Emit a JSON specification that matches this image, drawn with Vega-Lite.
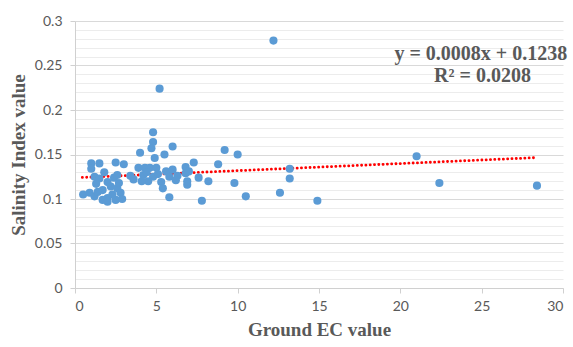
{
  "$schema": "https://vega.github.io/schema/vega-lite/v6.json",
  "width": 488,
  "height": 267,
  "autosize": "none",
  "padding": {"left": 75, "top": 21, "right": 10, "bottom": 59},
  "background": "white",
  "config": {"view": {"stroke": null}},
  "datasets": {
    "pts": [
      {"ec": 0.5, "si": 0.105}, {"ec": 1.0, "si": 0.140}, {"ec": 1.5, "si": 0.140}, {"ec": 1.0, "si": 0.134},
      {"ec": 2.5, "si": 0.141}, {"ec": 3.0, "si": 0.139}, {"ec": 1.2, "si": 0.125}, {"ec": 1.5, "si": 0.123},
      {"ec": 2.0, "si": 0.119}, {"ec": 2.4, "si": 0.124}, {"ec": 2.6, "si": 0.127}, {"ec": 2.2, "si": 0.114},
      {"ec": 2.6, "si": 0.112}, {"ec": 0.9, "si": 0.107}, {"ec": 1.2, "si": 0.103}, {"ec": 1.7, "si": 0.110},
      {"ec": 2.0, "si": 0.101}, {"ec": 1.7, "si": 0.099}, {"ec": 2.5, "si": 0.099}, {"ec": 2.0, "si": 0.097},
      {"ec": 2.8, "si": 0.107}, {"ec": 1.4, "si": 0.108}, {"ec": 1.8, "si": 0.130}, {"ec": 2.3, "si": 0.105},
      {"ec": 1.3, "si": 0.117}, {"ec": 2.7, "si": 0.118}, {"ec": 2.9, "si": 0.100},
      {"ec": 4.0, "si": 0.152}, {"ec": 4.8, "si": 0.175}, {"ec": 4.8, "si": 0.164}, {"ec": 4.7, "si": 0.157},
      {"ec": 4.9, "si": 0.146}, {"ec": 6.0, "si": 0.159}, {"ec": 5.5, "si": 0.150}, {"ec": 3.9, "si": 0.135},
      {"ec": 4.3, "si": 0.135}, {"ec": 4.6, "si": 0.135}, {"ec": 5.0, "si": 0.135}, {"ec": 5.6, "si": 0.131},
      {"ec": 6.0, "si": 0.133}, {"ec": 6.8, "si": 0.136}, {"ec": 4.2, "si": 0.127}, {"ec": 4.8, "si": 0.125},
      {"ec": 5.8, "si": 0.125}, {"ec": 5.3, "si": 0.119}, {"ec": 5.4, "si": 0.112}, {"ec": 5.8, "si": 0.102},
      {"ec": 6.8, "si": 0.129}, {"ec": 6.9, "si": 0.116}, {"ec": 6.9, "si": 0.120}, {"ec": 3.6, "si": 0.122},
      {"ec": 4.5, "si": 0.120}, {"ec": 4.1, "si": 0.120}, {"ec": 5.1, "si": 0.128}, {"ec": 4.4, "si": 0.130},
      {"ec": 6.3, "si": 0.126}, {"ec": 3.4, "si": 0.126}, {"ec": 6.2, "si": 0.121}, {"ec": 7.0, "si": 0.131},
      {"ec": 5.2, "si": 0.224}, {"ec": 7.3, "si": 0.141}, {"ec": 7.6, "si": 0.124}, {"ec": 8.2, "si": 0.120},
      {"ec": 8.8, "si": 0.139}, {"ec": 9.2, "si": 0.155}, {"ec": 10.0, "si": 0.150}, {"ec": 9.8, "si": 0.118},
      {"ec": 10.5, "si": 0.103}, {"ec": 7.8, "si": 0.098}, {"ec": 12.2, "si": 0.278}, {"ec": 13.2, "si": 0.134},
      {"ec": 13.2, "si": 0.123}, {"ec": 12.6, "si": 0.107}, {"ec": 14.9, "si": 0.098}, {"ec": 21.0, "si": 0.148},
      {"ec": 22.4, "si": 0.118}, {"ec": 28.4, "si": 0.115}
    ],
    "trend": [
      {"ec": 0.45, "si": 0.1242},
      {"ec": 28.4, "si": 0.1465}
    ]
  },
  "layer": [
    {
      "data": {"name": "trend"},
      "mark": {"type": "line", "color": "#ff0000", "strokeWidth": 2.8, "strokeDash": [0.1, 4.2], "strokeCap": "round"},
      "encoding": {
        "x": {"field": "ec", "type": "quantitative", "axis": null},
        "y": {
          "field": "si", "type": "quantitative",
          "axis": {
            "orient": "right", "values": [0.01,0.02,0.03,0.04,0.06,0.07,0.08,0.09,0.11,0.12,0.13,0.14,0.16,0.17,0.18,0.19,0.21,0.22,0.23,0.24,0.26,0.27,0.28,0.29],
            "labels": false, "ticks": false, "domain": false, "title": null,
            "grid": true, "gridColor": "#ececec", "gridWidth": 1
          }
        }
      }
    },
    {
      "data": {"name": "pts"},
      "mark": {"type": "circle", "color": "#5b9bd5", "opacity": 1, "size": 66},
      "encoding": {
        "x": {
          "field": "ec", "type": "quantitative",
          "scale": {"domain": [0, 30], "nice": false},
          "axis": {
            "title": "Ground EC value", "values": [0,5,10,15,20,25,30], "format": "d",
            "grid": false, "domainColor": "#d0d0d0", "tickColor": "#d0d0d0", "tickSize": 5,
            "labelFont": "Liberation Sans Narrow, Lato", "labelFontSize": 14, "labelColor": "#595959", "labelPadding": 6,
            "titleFont": "Liberation Serif", "titleFontSize": 19, "titleFontWeight": "bold", "titleColor": "#595959", "titlePadding": 7
          }
        },
        "y": {
          "field": "si", "type": "quantitative",
          "scale": {"domain": [0, 0.3], "nice": false},
          "axis": {
            "title": "Salinity Index value", "values": [0,0.05,0.1,0.15,0.2,0.25,0.3], "format": "~g",
            "grid": true, "gridColor": "#d9d9d9", "domainColor": "#d0d0d0", "tickColor": "#d0d0d0", "tickSize": 5,
            "labelFont": "Liberation Sans Narrow, Lato", "labelFontSize": 14, "labelColor": "#595959", "labelPadding": 8,
            "titleFont": "Liberation Serif", "titleFontSize": 19, "titleFontWeight": "bold", "titleColor": "#595959", "titlePadding": 6
          }
        }
      }
    },
    {
      "data": {"values": [{"t": "y = 0.0008x + 0.1238"}]},
      "mark": {"type": "text", "font": "Liberation Serif", "fontSize": 20, "fontWeight": "bold", "color": "#595959", "align": "center", "baseline": "middle"},
      "encoding": {
        "x": {"datum": 24.95, "axis": null},
        "y": {"datum": 0.263, "axis": null},
        "text": {"field": "t"}
      }
    },
    {
      "data": {"values": [{"t": "R² = 0.0208"}]},
      "mark": {"type": "text", "font": "Liberation Serif", "fontSize": 20, "fontWeight": "bold", "color": "#595959", "align": "center", "baseline": "middle"},
      "encoding": {
        "x": {"datum": 25.05, "axis": null},
        "y": {"datum": 0.238, "axis": null},
        "text": {"field": "t"}
      }
    }
  ],
  "resolve": {"axis": {"y": "independent", "x": "independent"}}
}
